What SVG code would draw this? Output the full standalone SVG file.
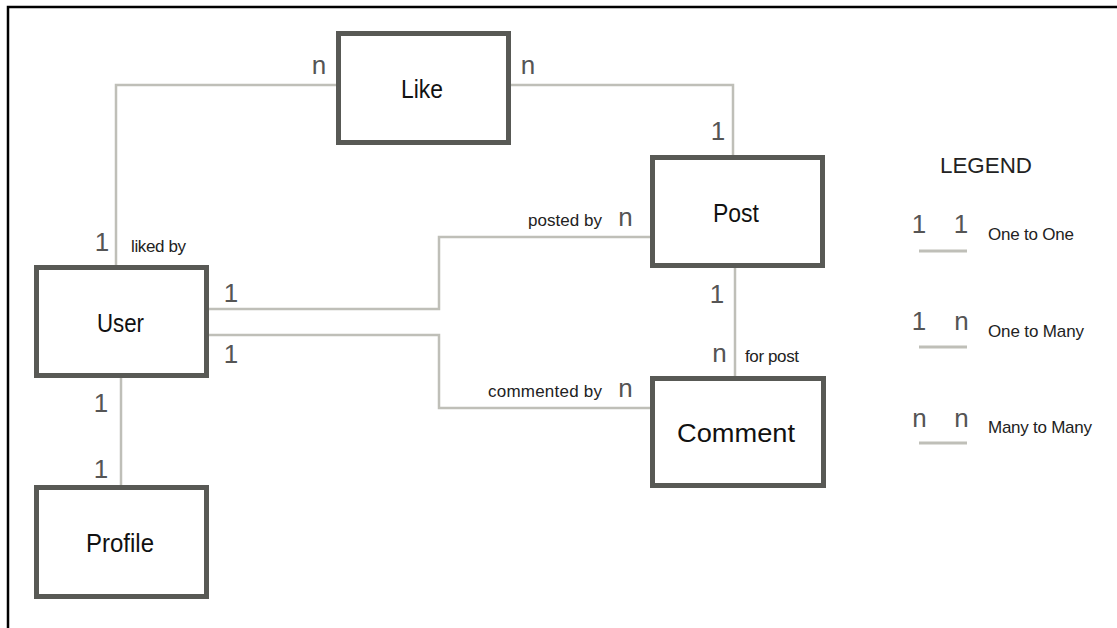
<svg xmlns="http://www.w3.org/2000/svg" width="1117" height="628" viewBox="0 0 1117 628">
<style>
.node{fill:#fff;stroke:#585955;stroke-width:5}
.conn{fill:none;stroke:#bfbfb8;stroke-width:2.5}
.lbl{font-family:"Liberation Sans",Arial,sans-serif;font-size:26px;fill:#111;text-anchor:middle}
.small{font-family:"Liberation Sans",Arial,sans-serif;font-size:17px;fill:#222}
.card{font-family:"Liberation Sans",Arial,sans-serif;font-size:26px;fill:#555;text-anchor:middle}
.leg{font-family:"Liberation Sans",Arial,sans-serif;font-size:17px;fill:#222}
</style>
<rect width="1117" height="628" fill="#fff"/>
<path d="M8,628 V7 H1117" fill="none" stroke="#000" stroke-width="2.5"/>
<g id="connectors">
<path class="conn" d="M336,85 H116 V265"/>
<path class="conn" d="M511,85 H733 V155"/>
<path class="conn" d="M209,309 H439 V237 H650"/>
<path class="conn" d="M209,335 H439 V408 H650"/>
<path class="conn" d="M735,268 V376"/>
<path class="conn" d="M121,378 V485"/>
</g>
<g id="like"><rect class="node" x="338.5" y="33.5" width="170" height="109"/><text class="lbl" x="422" y="98" textLength="42" lengthAdjust="spacingAndGlyphs">Like</text></g>
<g id="post"><rect class="node" x="652.5" y="157.5" width="170" height="108"/><text class="lbl" x="736" y="222" textLength="46" lengthAdjust="spacingAndGlyphs">Post</text></g>
<g id="user"><rect class="node" x="36.5" y="267.5" width="170" height="108"/><text class="lbl" x="120.5" y="332" textLength="47" lengthAdjust="spacingAndGlyphs">User</text></g>
<g id="comment"><rect class="node" x="652.5" y="378.5" width="171" height="107"/><text class="lbl" x="736" y="442" textLength="118" lengthAdjust="spacingAndGlyphs">Comment</text></g>
<g id="profile"><rect class="node" x="36.5" y="487.5" width="170" height="109"/><text class="lbl" x="120" y="552" textLength="68" lengthAdjust="spacingAndGlyphs">Profile</text></g>
<g id="labels">
<text class="card" x="319" y="74">n</text>
<text class="card" x="528" y="74">n</text>
<text class="card" x="718" y="140">1</text>
<text class="card" x="102" y="251">1</text>
<text class="small" x="131" y="252" textLength="55">liked by</text>
<text class="card" x="231" y="302">1</text>
<text class="card" x="231" y="363">1</text>
<text class="small" x="528" y="226" textLength="74">posted by</text>
<text class="card" x="625.5" y="226">n</text>
<text class="card" x="717" y="303">1</text>
<text class="card" x="719.5" y="362">n</text>
<text class="small" x="745" y="362" textLength="54">for post</text>
<text class="small" x="488" y="397" textLength="114">commented by</text>
<text class="card" x="625.5" y="397">n</text>
<text class="card" x="101" y="412">1</text>
<text class="card" x="101" y="478">1</text>
</g>
<g id="legend">
<text x="940" y="173" font-family="Liberation Sans, Arial, sans-serif" font-size="22" fill="#222" textLength="92" lengthAdjust="spacingAndGlyphs">LEGEND</text>
<text class="card" x="919" y="233">1</text>
<text class="card" x="961" y="233">1</text>
<line x1="919" y1="251" x2="967" y2="251" stroke="#bfbfb8" stroke-width="3"/>
<text class="leg" x="988" y="240" textLength="86">One to One</text>
<text class="card" x="919" y="330">1</text>
<text class="card" x="961.5" y="330">n</text>
<line x1="919" y1="347" x2="967" y2="347" stroke="#bfbfb8" stroke-width="3"/>
<text class="leg" x="988" y="337" textLength="96">One to Many</text>
<text class="card" x="919.5" y="427">n</text>
<text class="card" x="961.5" y="427">n</text>
<line x1="919" y1="443" x2="967" y2="443" stroke="#bfbfb8" stroke-width="3"/>
<text class="leg" x="988" y="433" textLength="104">Many to Many</text>
</g>
</svg>
